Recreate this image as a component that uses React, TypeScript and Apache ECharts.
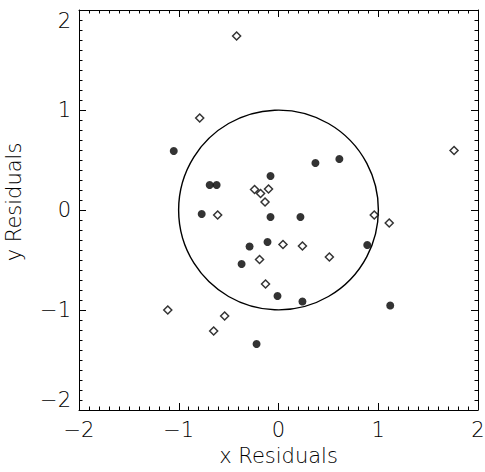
import React, { useEffect, useRef } from "react";
import * as echarts from "echarts";

const filledX = [-1.05, -0.69, -0.62, -0.08, 0.37, 0.61, -0.77, -0.08, 0.22, -0.29, -0.11, 0.89, -0.37, -0.01, 0.24, -0.22, 1.12];
const filledY = [0.59, 0.25, 0.25, 0.34, 0.47, 0.51, -0.04, -0.07, -0.07, -0.365, -0.32, -0.35, -0.54, -0.86, -0.915, -1.34, -0.955];

const diamondX = [-0.42, -0.79, 1.76, -0.24, -0.18, -0.1, -0.135, -0.61, 0.96, 1.11, 0.045, 0.24, 0.51, -0.19, -0.13, -1.11, -0.54, -0.65];
const diamondY = [1.74, 0.92, 0.595, 0.205, 0.165, 0.21, 0.08, -0.05, -0.05, -0.13, -0.345, -0.36, -0.47, -0.495, -0.74, -1.0, -1.06, -1.21];

const circleData = [[0, 0, 1]];

const axisMin = -2;
const axisMax = 2;

const FONT = "DejaVu Sans";

const fmt = (v: number) => (v < 0 ? "\u2212" + Math.abs(v) : String(v));

export default function App() {
  const ref = useRef<HTMLDivElement>(null);
  useEffect(() => {
    if (!ref.current) return;
    const chart = echarts.init(ref.current, null, { renderer: "svg" });
    const labelStyle = {
      color: "#000",
      fontFamily: FONT,
      fontWeight: 200 as any,
      fontSize: 21,
    };
    const common = {
      type: "value" as const,
      min: axisMin,
      max: axisMax,
      interval: 1,
      axisLine: { show: true, onZero: false, lineStyle: { color: "#000", width: 1 } },
      axisTick: { show: true, inside: true, length: 7, lineStyle: { color: "#000", width: 1 } },
      minorTick: { show: true, splitNumber: 10, length: 3.5, lineStyle: { color: "#000", width: 1 } },
      splitLine: { show: false },
      minorSplitLine: { show: false },
    };
    chart.setOption({
      animation: false,
      backgroundColor: "#fff",
      grid: { left: 79, right: 7, top: 10, bottom: 62, containLabel: false, outerBoundsMode: "none" },
      xAxis: [
        {
          ...common,
          position: "bottom",
          axisLabel: { ...labelStyle, margin: 9, formatter: fmt },
          name: "x Residuals",
          nameLocation: "middle",
          nameGap: 35,
          nameTextStyle: { ...labelStyle, fontSize: 21 },
        },
        {
          ...common,
          position: "top",
          axisLabel: { show: false },
        },
      ],
      yAxis: [
        {
          ...common,
          position: "left",
          axisLabel: {
            ...labelStyle,
            margin: 8,
            formatter: fmt,
            verticalAlignMinLabel: "bottom",
            verticalAlignMaxLabel: "top",
          },
          name: "y Residuals",
          nameLocation: "middle",
          nameGap: 55,
          nameTextStyle: { ...labelStyle, fontSize: 21, padding: [0, 0, 0, 16] },
        },
        {
          ...common,
          position: "right",
          axisLabel: { show: false },
        },
      ],
      series: [
        {
          type: "custom",
          xAxisIndex: 0,
          yAxisIndex: 0,
          silent: true,
          data: circleData,
          renderItem: (_params: any, api: any) => {
            const c = api.coord([api.value(0), api.value(1)]);
            const s = api.size([api.value(2), api.value(2)]);
            return {
              type: "circle",
              shape: { cx: c[0], cy: c[1], r: (s[0] + s[1]) / 2 },
              style: { fill: "none", stroke: "#000", lineWidth: 1.4 },
            };
          },
        },
        {
          type: "scatter",
          xAxisIndex: 0,
          yAxisIndex: 0,
          symbol: "circle",
          symbolSize: 8,
          itemStyle: { color: "#000" },
          data: filledX.map((x, i) => [x, filledY[i]]),
        },
        {
          type: "scatter",
          xAxisIndex: 0,
          yAxisIndex: 0,
          symbol: "diamond",
          symbolSize: 8,
          itemStyle: { color: "#fff", borderColor: "#000", borderWidth: 1.5 },
          data: diamondX.map((x, i) => [x, diamondY[i]]),
        },
      ],
    });
    return () => chart.dispose();
  }, []);
  return (
    <div
      ref={ref}
      style={{ position: "fixed", left: 0, top: 0, width: 485, height: 472, background: "#fff" }}
    />
  );
}
